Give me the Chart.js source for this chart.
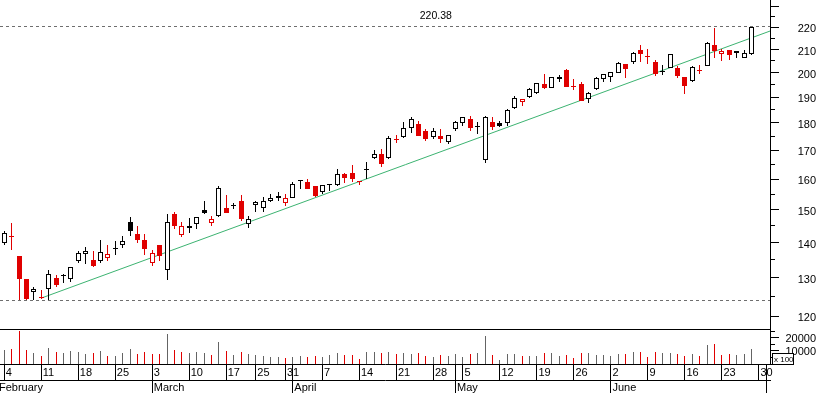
<!DOCTYPE html>
<html>
<head>
<meta charset="utf-8">
<script src="https://cdn.jsdelivr.net/npm/chart.js@4.4.1/dist/chart.umd.min.js"></script>
<style>
html,body{margin:0;padding:0;background:#fff;}
canvas{display:block;}
</style>
</head>
<body>
<canvas id="c" width="816" height="393"></canvas>
<script>
// ---- data (trading days 4 Feb .. 27 Jun, index 0..101) ----
const openP = [
 139.8,142.0,136.1,129.7,126.2,124.9,127.0,130.0,130.5,129.8,
 134.7,136.8,135.0,134.6,135.6,138.0,139.4,146.1,142.6,140.8,
 134.0,139.3,132.1,148.7,142.2,144.3,145.5,149.8,145.9,147.9,
 150.7,151.2,152.8,145.5,151.4,150.7,152.9,154.5,152.3,153.7,
 159.2,159.0,157.7,155.8,157.9,157.9,161.7,161.9,159.2,162.9,
 167.1,168.6,167.1,174.1,174.6,178.0,179.6,177.1,174.6,175.1,
 172.8,177.8,179.8,181.5,178.9,166.5,180.3,179.8,179.8,185.6,
 188.2,189.9,191.5,195.3,193.6,197.4,201.1,194.3,195.3,189.1,
 193.2,197.3,198.1,199.8,203.7,204.4,209.8,207.0,204.5,200.9,
 202.0,202.0,198.2,196.7,200.9,202.8,211.9,208.1,209.6,209.2,
 206.4,208.1];
const highP = [
 143.5,146.0,136.2,129.8,127.5,126.7,132.2,130.8,131.0,133.0,
 137.6,138.8,137.6,140.8,139.3,140.5,142.1,147.8,145.1,142.7,
 137.7,139.4,148.6,149.2,146.1,147.3,147.7,152.8,148.1,157.7,
 154.7,152.3,154.7,148.1,152.7,154.1,155.0,155.6,155.0,159.1,
 159.5,159.9,157.8,158.0,158.4,163.4,162.1,164.8,159.4,165.9,
 169.9,170.4,175.1,175.5,180.2,182.2,180.7,177.6,178.2,177.8,
 175.6,180.8,182.2,182.6,180.5,182.5,182.4,180.6,185.3,190.4,
 189.2,193.6,195.9,199.5,198.3,199.0,201.4,197.3,196.3,192.2,
 198.3,199.4,200.3,204.4,203.8,208.8,211.9,210.2,205.5,203.4,
 208.1,202.9,198.3,202.7,203.2,213.2,219.8,210.2,209.7,209.2,
 209.6,220.38];
const lowP = [
 139.2,137.7,124.1,124.0,124.1,124.3,124.1,127.5,128.7,129.0,
 134.1,133.8,132.9,134.2,134.7,136.4,138.5,141.9,140.0,136.4,
 133.4,134.8,129.4,144.1,141.6,143.0,144.1,148.7,144.9,147.8,
 149.0,150.1,146.4,144.3,149.4,149.4,152.6,152.9,151.3,153.6,
 156.8,156.6,154.2,155.0,156.0,157.6,158.7,159.1,157.9,159.9,
 167.0,164.2,167.0,172.7,174.5,176.2,175.0,173.4,174.0,172.7,
 172.2,177.1,179.0,177.1,175.8,165.3,177.4,178.6,179.0,185.5,
 186.6,189.8,191.4,193.3,193.5,196.0,194.1,193.0,188.5,187.6,
 192.9,196.3,196.3,199.7,197.7,203.7,204.7,203.8,198.5,199.0,
 201.9,197.6,191.4,196.3,199.3,202.7,206.5,205.1,205.5,206.3,
 206.1,207.4];
const closeP = [
 142.9,141.8,129.6,124.3,127.0,124.6,131.0,128.2,130.7,132.9,
 137.1,137.6,133.4,137.3,136.6,138.2,140.4,143.6,140.8,138.1,
 137.1,136.1,146.1,145.1,144.9,145.0,147.6,149.1,147.2,156.9,
 149.1,151.4,147.1,147.2,152.6,152.8,153.7,153.9,153.7,158.3,
 159.4,156.8,154.5,157.9,158.2,161.6,160.4,160.0,159.0,163.1,
 168.5,165.1,174.3,173.5,178.0,181.5,175.1,174.1,176.9,173.9,
 175.5,180.2,182.1,178.0,178.4,182.4,178.6,178.7,184.9,189.5,
 189.1,193.2,195.6,193.8,198.1,198.3,194.2,194.1,188.6,191.5,
 197.7,199.3,200.2,204.0,201.5,208.3,208.2,206.6,199.5,200.4,
 208.0,198.8,194.6,202.3,200.7,212.9,209.5,209.2,207.8,208.3,
 208.4,220.0];
const volume = [
 10400,11200,25000,10400,8300,5800,11900,9100,8100,9600,
 8900,7600,8300,9600,5800,5800,8100,11200,7900,8900,
 7600,7600,22700,10400,9100,8100,9400,8600,6800,16600,
 9600,6500,8900,7600,6500,5800,5200,5200,4200,5000,
 5800,5000,5800,5000,6500,8100,6800,6800,3500,8900,
 8900,8300,8900,7600,8300,7600,8300,5800,5200,6500,
 5800,7600,5000,7600,8300,21400,6800,2700,7600,7600,
 5800,5800,5800,8300,8300,5800,6800,4500,8300,8300,
 6500,6500,5800,7600,7600,9100,9100,5200,9100,8300,
 8300,7600,5800,7600,5800,14200,15200,6800,7600,6800,
 7600,11400];

// ---- axis ticks / labels ----
const weekTickIdx    = [0,5,10,15,20,25,30,34,38,43,48,53,58,62,67,72,77,82,87,92,97,102];
const weekTickLabels = ['4','11','18','25','3','10','17','25','31','7','14','21','28','5','12','19','26','2','9','16','23','30'];
const monthTickIdx    = [-0.92,20,39,61,82,103];
const monthTickLabels = ['February','March','April','May','June',''];
const priceTicks = [120,125,130,135,140,145,150,155,160,165,170,175,180,185,190,195,200,205,210,215,220,225,230];
const priceLabelTicks = [120,130,140,150,160,170,180,190,200,210,220];
const volumeTicks = [0,5000,10000,15000,20000,25000];
const volumeLabelTicks = [10000,20000];
// trend line end points (index, price)
const trendX = [5, 103.5];
const trendY = [124.6, 218.3];

// ---- ranges ----
const X_MIN = -0.58, X_MAX = 103.5;
const P_MIN = 116.65, P_MAX = 232.98;
const V_MAX = 26300;

const RED = '#e00000', BLACK = '#000000', GRAY = '#646464', GREEN = '#3cb371', DASH = '#6e6e6e';
const FONT = '"Liberation Sans", Arial, Helvetica, sans-serif';
Chart.defaults.font.family = FONT;

const idx = closeP.map((_, i) => i);
const up = closeP.map((c, i) => i === 0 ? true : c >= closeP[i - 1]);
const candleColor = up.map(u => u ? BLACK : RED);
const hollow = closeP.map((c, i) => c >= openP[i]);
const maxHigh = Math.max(...highP);
const minLow = Math.min(...lowP);

const weekLabelOf = new Map(weekTickIdx.map((v, i) => [v, weekTickLabels[i]]));
const monthLabelOf = new Map(monthTickIdx.map((v, i) => [v, monthTickLabels[i]]));
const weekAxisTicks = Array.from(new Set([...weekTickIdx, ...monthTickIdx.filter(v => v >= X_MIN && v <= X_MAX)])).sort((a, b) => a - b);

const barCommon = {
  type: 'bar', grouped: false, barPercentage: 1, categoryPercentage: 1,
  borderSkipped: false, inflateAmount: 0, xAxisID: 'x'
};

const snapPlugin = {
  id: 'snap',
  afterDatasetsUpdate(chart) {
    chart.data.datasets.forEach((ds, di) => {
      const meta = chart.getDatasetMeta(di);
      if (meta.type === 'bar') {
        meta.data.forEach(el => {
          if (!el || !isFinite(el.x) || !isFinite(el.y)) return;
          const w = el.width;
          el.x = Math.round(el.x - w / 2) + w / 2;
          let top = Math.round(el.y), base = Math.round(el.base);
          if (Math.abs(base - top) < 1) base = top + 1;
          el.y = top; el.base = base;
        });
      } else if (ds.snapY) {
        meta.data.forEach(pt => { pt.y = Math.round(pt.y - 0.5) + 0.5; });
      }
    });
  },
  afterDraw(chart) {
    const ctx = chart.ctx, area = chart.chartArea;
    const ys = chart.scales.y, yv = chart.scales.yv;
    ctx.save();
    ctx.fillStyle = '#000';
    ctx.font = '10.5px ' + FONT;
    ctx.textAlign = 'center';
    ctx.textBaseline = 'middle';
    ctx.fillText(maxHigh.toFixed(2), area.left + area.width * 0.566, ys.getPixelForValue(maxHigh) - 10.5);
    // volume unit box
    const bx = Math.round(yv.left) + 2.5, by = Math.round(yv.bottom) - 10.5;
    ctx.fillStyle = '#fff';
    ctx.fillRect(bx, by, 21, 11);
    ctx.strokeStyle = '#000'; ctx.lineWidth = 1;
    ctx.strokeRect(bx, by, 21, 11);
    ctx.fillStyle = '#000';
    ctx.font = '8px ' + FONT;
    ctx.textAlign = 'left';
    ctx.fillText('x 100', bx + 1.5, by + 6);
    ctx.restore();
  }
};

const tickFont = { family: FONT, size: 11 };
const yTickFont = { family: FONT, size: 11, lineHeight: 0.01 };

new Chart(document.getElementById('c'), {
  type: 'bar',
  data: {
    datasets: [
      Object.assign({}, barCommon, {
        label: 'body', yAxisID: 'y', maxBarThickness: 5, minBarLength: 1,
        data: idx.map(i => ({ x: i, y: [Math.min(openP[i], closeP[i]), Math.max(openP[i], closeP[i])] })),
        backgroundColor: idx.map(i => hollow[i] ? '#ffffff' : candleColor[i]),
        borderColor: candleColor, borderWidth: 1
      }),
      Object.assign({}, barCommon, {
        label: 'wick', yAxisID: 'y', maxBarThickness: 1,
        data: idx.map(i => ({ x: i, y: [lowP[i], highP[i]] })),
        backgroundColor: candleColor, borderWidth: 0
      }),
      {
        type: 'line', label: 'trend', xAxisID: 'x', yAxisID: 'y',
        data: trendX.map((x, i) => ({ x, y: trendY[i] })),
        borderColor: GREEN, borderWidth: 1, pointRadius: 0, fill: false
      },
      {
        type: 'line', label: 'max', xAxisID: 'x', yAxisID: 'y', snapY: true,
        data: [{ x: X_MIN, y: maxHigh }, { x: X_MAX, y: maxHigh }],
        borderColor: DASH, borderWidth: 1, borderDash: [3, 3], pointRadius: 0, fill: false
      },
      {
        type: 'line', label: 'min', xAxisID: 'x', yAxisID: 'y', snapY: true,
        data: [{ x: X_MIN, y: minLow }, { x: X_MAX, y: minLow }],
        borderColor: DASH, borderWidth: 1, borderDash: [3, 3], pointRadius: 0, fill: false
      },
      Object.assign({}, barCommon, {
        label: 'volume', yAxisID: 'yv', maxBarThickness: 1,
        data: idx.map(i => ({ x: i, y: volume[i] })),
        backgroundColor: up.map(u => u ? GRAY : RED), borderWidth: 0
      })
    ]
  },
  options: {
    responsive: false,
    animation: false,
    events: [],
    layout: { padding: 0 },
    plugins: { legend: { display: false }, tooltip: { enabled: false }, title: { display: false } },
    scales: {
      x: {
        type: 'linear', position: 'bottom', weight: 0, min: X_MIN, max: X_MAX, bounds: 'data', offset: false,
        grid: { offset: false, drawOnChartArea: false, drawTicks: true, tickLength: 16, tickColor: '#000', tickWidth: 1 },
        border: { display: true, color: '#000', width: 1 },
        ticks: {
          autoSkip: false, maxRotation: 0, minRotation: 0, align: 'start', padding: -13.7, labelOffset: 1.5,
          color: '#000', font: tickFont,
          callback: v => weekLabelOf.has(v) ? weekLabelOf.get(v) : ''
        },
        afterBuildTicks: s => { s.ticks = weekAxisTicks.map(v => ({ value: v })); },
        afterFit: s => { s.height = 16; }
      },
      x2: {
        type: 'linear', position: 'bottom', weight: 1, min: X_MIN, max: X_MAX, bounds: 'data', offset: false,
        grid: { offset: false, drawOnChartArea: false, drawTicks: true, tickLength: 13, tickColor: '#000', tickWidth: 1 },
        border: { display: true, color: '#000', width: 1 },
        ticks: {
          autoSkip: false, maxRotation: 0, minRotation: 0, align: 'start', padding: -12.1, labelOffset: 1.5,
          color: '#000', font: tickFont,
          callback: v => monthLabelOf.has(v) ? monthLabelOf.get(v) : ''
        },
        afterBuildTicks: s => { s.ticks = monthTickIdx.map(v => ({ value: v })); },
        afterFit: s => { s.height = 13; }
      },
      y: {
        type: 'logarithmic', position: 'right', stack: 'panels', stackWeight: 329.5,
        min: P_MIN, max: P_MAX, bounds: 'data',
        grid: {
          drawOnChartArea: true, drawTicks: true, tickLength: 23.65,
          color: c => (c.tick && c.tick.value === P_MIN) ? '#000' : 'rgba(0,0,0,0)',
          tickColor: c => (c.tick && c.tick.value === P_MIN) ? 'rgba(0,0,0,0)' : '#000',
          tickBorderDash: c => (c.tick && c.tick.value % 10 === 0) ? [8, 40] : [4, 40]
        },
        border: { display: true, color: '#000', width: 1 },
        ticks: {
          autoSkip: false, padding: 0, crossAlign: 'far', labelOffset: 2, color: '#000', font: yTickFont,
          callback: v => priceLabelTicks.includes(v) ? String(v) : ''
        },
        afterBuildTicks: s => { s.ticks = [P_MIN, ...priceTicks].map(v => ({ value: v })); },
        afterFit: s => { s.width = 46; }
      },
      yv: {
        type: 'linear', position: 'right', stack: 'panels', stackWeight: 34.5,
        min: 0, max: V_MAX, bounds: 'data', beginAtZero: true,
        grid: {
          drawOnChartArea: false, drawTicks: true, tickLength: 11.4, tickColor: '#000',
          tickBorderDash: c => (c.tick && c.tick.value % 10000 === 0) ? [8, 40] : [4, 40]
        },
        border: { display: true, color: '#000', width: 1 },
        ticks: {
          autoSkip: false, padding: 0, crossAlign: 'far', labelOffset: 1.5, color: '#000', font: yTickFont,
          callback: v => volumeLabelTicks.includes(v) ? String(v) : ''
        },
        afterBuildTicks: s => { s.ticks = volumeTicks.map(v => ({ value: v })); },
        afterFit: s => { s.width = 46; }
      }
    }
  },
  plugins: [snapPlugin]
});
</script>
</body>
</html>
